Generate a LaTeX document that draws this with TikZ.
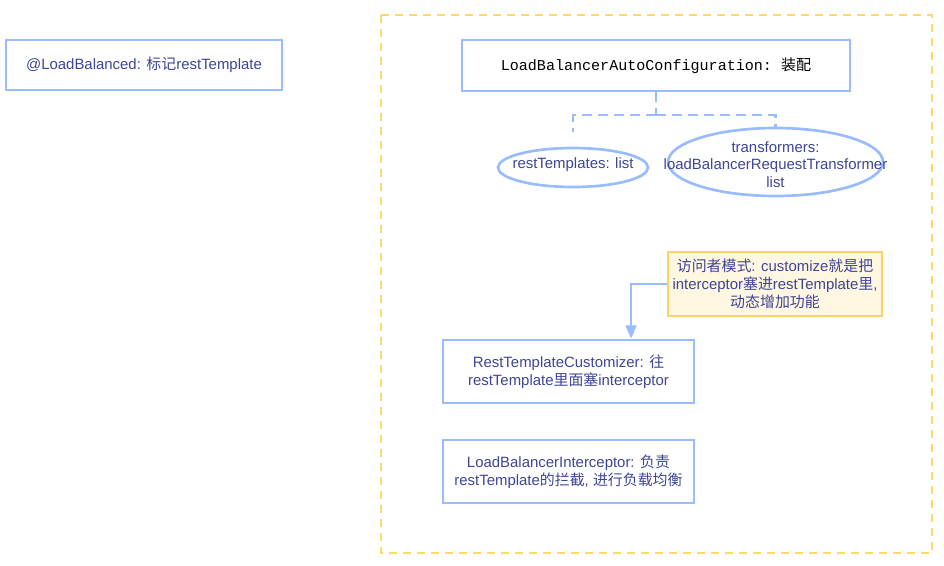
\documentclass[tikz,border=0pt]{standalone}
\usepackage{fontspec}
\setmainfont{Liberation Sans}
\setmonofont{Liberation Mono}
\newfontfamily\cjk{Noto Sans CJK SC}
\newcommand\zh[1]{{\cjk #1}}
\newcommand\overflowtext[2][0pt]{\smash{\raisebox{#1}{\makebox[0pt][c]{\begin{tabular}{@{}c@{}}#2\end{tabular}}}}}
\usetikzlibrary{arrows.meta,calc,shapes.geometric}
\definecolor{boxblue}{HTML}{99BBFF}
\definecolor{txt}{HTML}{3D4595}
\definecolor{frameyel}{HTML}{FFD966}
\definecolor{noteyel}{HTML}{FFF7E2}
\definecolor{notebrd}{HTML}{FFD062}
\tikzset{
  base/.style={draw=boxblue, line width=2pt, text=txt, align=center,
    font=\fontsize{11.2}{13.3}\selectfont, inner sep=2pt},
  box/.style={base, rectangle},
  ell/.style={base, ellipse},
  note/.style={base, rectangle, draw=notebrd, fill=noteyel},
  conn/.style={draw=boxblue, line width=2pt, dash pattern=on 7.5pt off 4.5pt},
  arr/.style={draw=boxblue, line width=2pt, -{Triangle[length=10pt,width=8pt]}},
}
\begin{document}
\begin{tikzpicture}[x=0.75pt,y=-0.75pt]
\useasboundingbox (0,0) rectangle (944,565);
\draw[frameyel, line width=1.6pt, dash pattern=on 6pt off 4.5pt] (381,15) rectangle (932,553);
\node[box, minimum width=276*0.75pt, minimum height=50*0.75pt] (lb) at (144,65)
  {@LoadBalanced: \zh{标记}restTemplate};
\node[box, minimum width=388*0.75pt, minimum height=51*0.75pt, text=black] (cfg) at (656,65.5)
  {\fontsize{11.3}{13}\selectfont\ttfamily LoadBalancerAutoConfiguration: \zh{装配}};
\node[ell, minimum width=150*0.75pt, minimum height=39*0.75pt, inner sep=0pt] (rt) at (573,167.5)
  {\overflowtext[-1pt]{restTemplates: list}};
\node[ell, minimum width=215*0.75pt, minimum height=68*0.75pt, inner sep=0pt] (tf) at (775.5,162)
  {\overflowtext[-6pt]{transformers:\\loadBalancerRequestTransformer\\list}};
\coordinate (j) at (656,115);
\draw[conn] (cfg.south) -- (j);
\draw[conn, shorten >=11pt] (j) -| (rt.north);
\draw[conn] (j) -| (tf.north);
\node[note, minimum width=214*0.75pt, minimum height=64*0.75pt] (nt) at (775,284)
  {\zh{访问者模式}: customize\zh{就是把}\\interceptor\zh{塞进}restTemplate\zh{里},\\\zh{动态增加功能}};
\node[box, minimum width=251*0.75pt, minimum height=63*0.75pt] (cust) at (568.5,371.5)
  {RestTemplateCustomizer: \zh{往}\\restTemplate\zh{里面塞}interceptor};
\node[box, minimum width=251*0.75pt, minimum height=63*0.75pt] (inter) at (568.5,471.5)
  {LoadBalancerInterceptor: \zh{负责}\\restTemplate\zh{的拦截}, \zh{进行负载均衡}};
\draw[arr] (nt.west) -| ([xshift=46.9pt]cust.north);
\end{tikzpicture}
\end{document}
